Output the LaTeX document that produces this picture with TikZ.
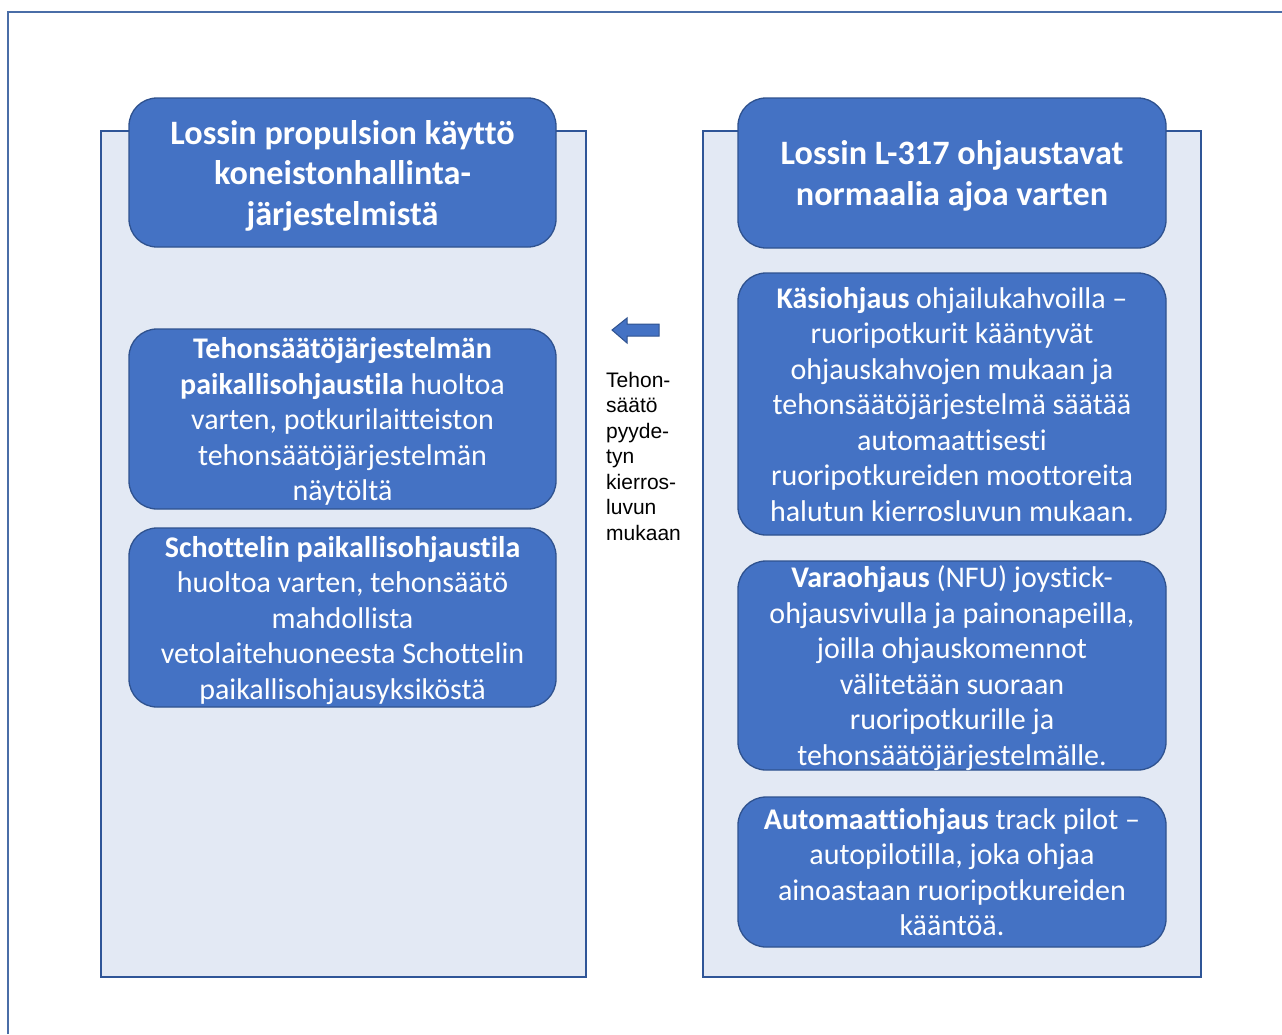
\documentclass[tikz,border=0pt]{standalone}
\usepackage{fontspec}
\setmainfont{Carlito}[Ligatures=NoCommon]
\newfontfamily\arialfont{Liberation Sans}
\definecolor{boxblue}{HTML}{4472C4}
\definecolor{boxedge}{HTML}{2F528F}
\definecolor{panelfill}{HTML}{E3E9F4}
\definecolor{paneledge}{HTML}{2F5597}
\definecolor{frameline}{HTML}{4A6DA7}

\begin{document}
\begin{tikzpicture}[x=1pt, y=-1pt,
  panel/.style={draw=paneledge, line width=2.2pt, fill=panelfill, inner sep=0pt},
  bluebox/.style={draw=boxedge, line width=1.3pt, fill=boxblue, rounded corners=28pt,
    text=white, align=center, inner sep=0pt, text depth=0pt, font=\fontsize{30}{35.5}\selectfont},
  headbox/.style={bluebox, font=\bfseries\fontsize{34.2}{40.5}\selectfont}]
\useasboundingbox (0,0) rectangle (1282,1034);
\draw[frameline, line width=1.2pt] (8,1034) -- (8,12) -- (1282,12);
\node[panel, minimum width=485pt, minimum height=846pt] (leftpanel) at (343.5,554) {};
\node[panel, minimum width=498pt, minimum height=846pt] (rightpanel) at (952,554) {};
\node[headbox, minimum width=427pt, minimum height=149pt] (lefthead) at (342.5,172.5)
  {Lossin propulsion käyttö\\koneistonhallinta-\\järjestelmistä};
\node[bluebox, minimum width=427pt, minimum height=180pt] (localmode) at (342.5,419)
  {{\bfseries Tehonsäätöjärjestelmän}\\{\bfseries paikallisohjaustila} huoltoa\\varten, potkurilaitteiston\\tehonsäätöjärjestelmän\\näytöltä};
\node[bluebox, minimum width=427pt, minimum height=179pt] (schottel) at (342.5,617.5)
  {{\bfseries Schottelin paikallisohjaustila}\\huoltoa varten, tehonsäätö\\mahdollista\\vetolaitehuoneesta Schottelin\\paikallisohjausyksiköstä};
\node[headbox, minimum width=428pt, minimum height=150pt] (righthead) at (952,173)
  {Lossin L-317 ohjaustavat\\normaalia ajoa varten};
\node[bluebox, minimum width=428pt, minimum height=262pt] (manual) at (952,404)
  {{\bfseries Käsiohjaus} ohjailukahvoilla –\\ruoripotkurit kääntyvät\\ohjauskahvojen mukaan ja\\tehonsäätöjärjestelmä säätää\\automaattisesti\\ruoripotkureiden moottoreita\\halutun kierrosluvun mukaan.};
\node[bluebox, minimum width=428pt, minimum height=209pt] (backup) at (952,665.5)
  {{\bfseries Varaohjaus} (NFU) joystick-\\ohjausvivulla ja painonapeilla,\\joilla ohjauskomennot\\välitetään suoraan\\ruoripotkurille ja\\tehonsäätöjärjestelmälle.};
\node[bluebox, minimum width=428pt, minimum height=150pt] (autopilot) at (952,872)
  {{\bfseries Automaattiohjaus} track pilot –\\autopilotilla, joka ohjaa\\ainoastaan ruoripotkureiden\\kääntöä.};
% block arrow towards the left panel
\draw[fill=boxblue, draw=boxedge, line width=1pt] (612,330) -- (627,318) -- (627,324) -- (659,324)
  -- (659,336) -- (627,336) -- (627,343) -- cycle;
\node[anchor=west, align=left, inner sep=0pt, font=\arialfont\fontsize{21}{25.5}\selectfont] (request) at (606,456)
  {Tehon-\\säätö\\pyyde-\\tyn\\kierros-\\luvun\\mukaan};
\end{tikzpicture}
\end{document}
